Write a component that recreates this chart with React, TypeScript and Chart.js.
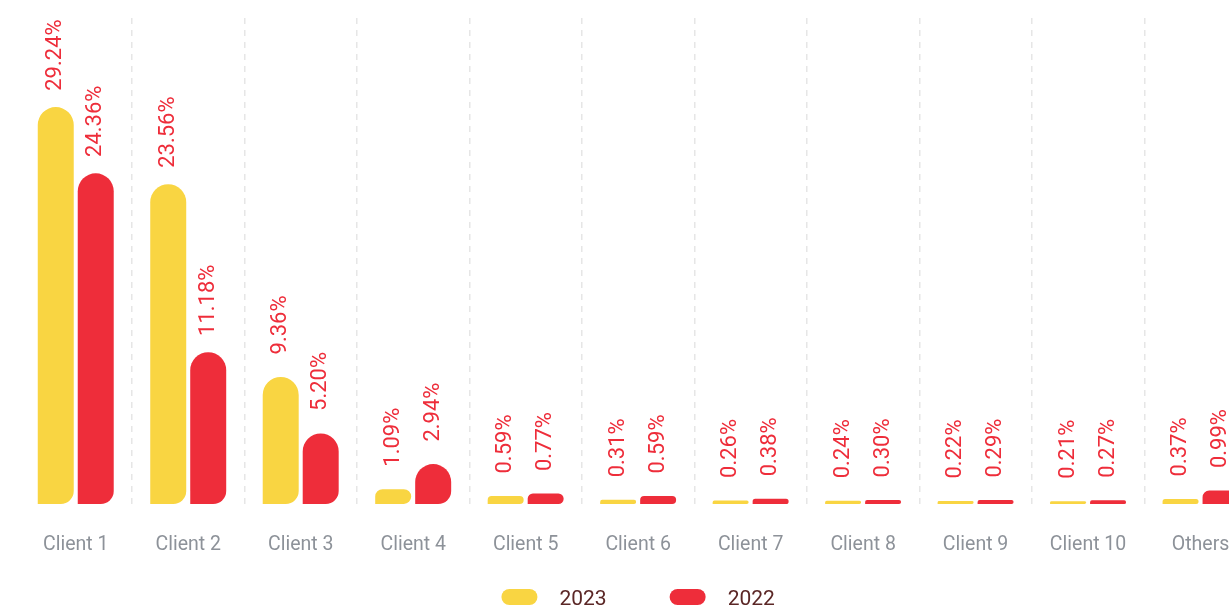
import React, { useEffect, useRef } from "react";
import { Chart, registerables } from "chart.js";

Chart.register(...registerables);

const categories = ["Client 1", "Client 2", "Client 3", "Client 4", "Client 5", "Client 6", "Client 7", "Client 8", "Client 9", "Client 10", "Others"];
const series2023 = [29.24, 23.56, 9.36, 1.09, 0.59, 0.31, 0.26, 0.24, 0.22, 0.21, 0.37];
const series2022 = [24.36, 11.18, 5.2, 2.94, 0.77, 0.59, 0.38, 0.3, 0.29, 0.27, 0.99];
const seriesLabels = ["2023", "2022"];

const YELLOW = "#F9D542";
const RED = "#EE2D3A";
const FONT = "Roboto, 'Noto Sans', sans-serif";

const valueLabelPlugin = {
  id: "valueLabels",
  afterDatasetsDraw(chart: any) {
    const ctx = chart.ctx;
    ctx.save();
    ctx.font = `22px ${FONT}`;
    ctx.fillStyle = RED;
    ctx.textAlign = "center";
    ctx.textBaseline = "middle";
    chart.data.datasets.forEach((ds: any, i: number) => {
      const meta = chart.getDatasetMeta(i);
      meta.data.forEach((bar: any, j: number) => {
        const v = ds.data[j];
        ctx.save();
        ctx.translate(bar.x, bar.y - 52);
        ctx.rotate(-Math.PI / 2);
        ctx.fillText(`${v.toFixed(2)}%`, 0, 0);
        ctx.restore();
      });
    });
    ctx.restore();
  },
};

const pillLegendPlugin = {
  id: "pillLegend",
  afterDraw(chart: any) {
    const ctx = chart.ctx;
    const area = chart.chartArea;
    ctx.save();
    ctx.font = `21px ${FONT}`;
    const boxW = 36;
    const boxH = 16;
    const textGap = 22;
    const itemGap = 63;
    const items = chart.data.datasets.map((ds: any) => ({
      text: ds.label,
      color: ds.backgroundColor,
      w: ctx.measureText(ds.label).width,
    }));
    const total = items.reduce((s: number, it: any) => s + boxW + textGap + it.w, 0) + itemGap * (items.length - 1);
    let x = (area.left + area.right) / 2 - total / 2;
    const cy = 597;
    items.forEach((it: any) => {
      ctx.fillStyle = it.color;
      ctx.beginPath();
      ctx.roundRect(x, cy - boxH / 2, boxW, boxH, boxH / 2);
      ctx.fill();
      ctx.fillStyle = "#5B2726";
      ctx.textAlign = "left";
      ctx.textBaseline = "alphabetic";
      ctx.fillText(it.text, x + boxW + textGap, cy + 7.5);
      x += boxW + textGap + it.w + itemGap;
    });
    ctx.restore();
  },
};

export default function App() {
  const canvasRef = useRef<HTMLCanvasElement | null>(null);

  useEffect(() => {
    if (!canvasRef.current) return;
    const radius = { topLeft: 18, topRight: 18, bottomRight: 13, bottomLeft: 0 };
    const chart = new Chart(canvasRef.current, {
      type: "bar",
      data: {
        labels: categories,
        datasets: [
          {
            label: seriesLabels[0],
            data: series2023,
            backgroundColor: YELLOW,
            borderRadius: radius,
            borderSkipped: false,
            categoryPercentage: 0.711,
            barPercentage: 0.9,
          },
          {
            label: seriesLabels[1],
            data: series2022,
            backgroundColor: RED,
            borderRadius: radius,
            borderSkipped: false,
            categoryPercentage: 0.711,
            barPercentage: 0.9,
          },
        ],
      },
      options: {
        responsive: false,
        animation: false,
        layout: { padding: { left: 19.5, right: 20.2, top: 18, bottom: 44.6 } },
        plugins: {
          legend: { display: false },
          tooltip: { enabled: false },
        },
        scales: {
          x: {
            grid: {
              display: true,
              drawTicks: false,
              color: (c: any) => (c.index === 0 ? "rgba(0,0,0,0)" : "#E6E6E6"),
              lineWidth: 1.5,
              borderDash: [6, 6],
            } as any,
            border: { display: false, dash: [6, 6] },
            ticks: {
              color: "#8D9299",
              padding: 29,
              font: { family: FONT, size: 19.5 },
            },
          },
          y: {
            display: false,
            min: 0,
            max: 35.8,
          },
        },
      } as any,
      plugins: [valueLabelPlugin, pillLegendPlugin],
    });
    return () => chart.destroy();
  }, []);

  return (
    <div style={{ position: "fixed", left: 0, top: 0, width: "100vw", height: "100vh", overflow: "hidden", background: "#fff" }}>
      <canvas ref={canvasRef} width={1277} height={630} style={{ display: "block" }} />
    </div>
  );
}
